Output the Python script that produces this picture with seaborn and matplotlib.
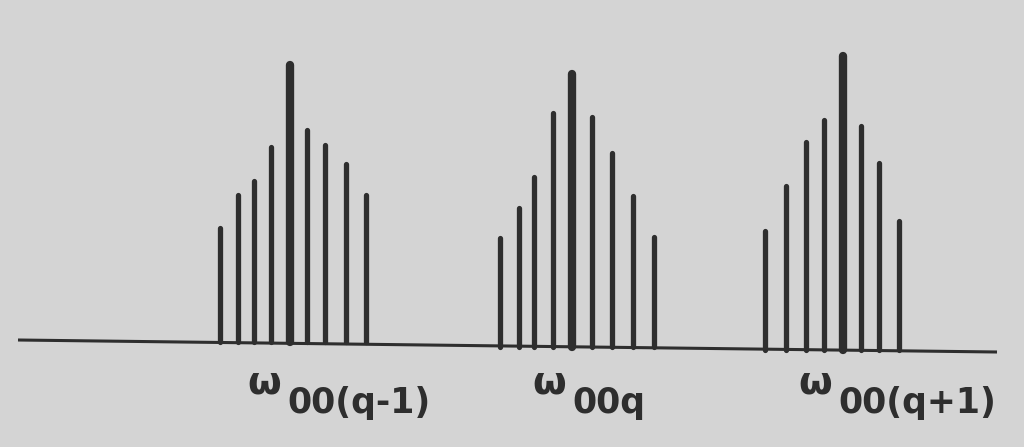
import numpy as np
import pandas as pd
import matplotlib
matplotlib.use("Agg")
import matplotlib.pyplot as plt
import seaborn as sns

# spectral line positions and heights
pos_1 = [220, 238, 254, 271, 290, 307, 325, 346, 366]
h_1 = [114, 147, 161, 195, 277, 212, 197, 178, 147]
pos_2 = [500, 519, 534, 553, 572, 592, 612, 633, 654]
h_2 = [109, 139, 170, 234, 273, 230, 194, 151, 110]
pos_3 = [765, 786, 806, 824, 843, 861, 879, 899]
h_3 = [119, 164, 208, 230, 294, 224, 187, 129]
base = [105, 100, 97]
centre = [290, 572, 843]

labels = ["00(q-1)", "00q", "00(q+1)"]
label_x = [247, 532, 798]

sns.set_theme(style="white")
ink = "#2e2e2e"
paper = "#d4d4d4"

fig = plt.figure(figsize=(10.24, 4.47), dpi=100, facecolor=paper)
ax = fig.add_axes([0, 0, 1, 1])
ax.set_facecolor(paper)
ax.set_xlim(0, 1024)
ax.set_ylim(0, 447)
ax.axis("off")

# baseline (slightly tilted in the scan)
ax.plot([18, 997], [107, 95], color=ink, lw=2.2, solid_capstyle="butt")

groups = [(pos_1, h_1), (pos_2, h_2), (pos_3, h_3)]
for (xs, hs), b, c in zip(groups, base, centre):
    df = pd.DataFrame({"x": xs, "h": hs})
    for _, r in df.iterrows():
        lw = 6.0 if r["x"] == c else 3.8
        ax.plot([r["x"], r["x"]], [b, b + r["h"]], color=ink, lw=lw,
                solid_capstyle="round")

for lab, lx in zip(labels, label_x):
    ax.text(lx, 447 - 382, "ω", fontsize=28, color=ink, ha="left", va="center",
            fontweight="bold")
    ax.text(lx + 40, 447 - 403, lab, fontsize=25, color=ink, ha="left",
            va="center", fontweight="semibold")

fig.savefig("out.png", dpi=100, facecolor=paper)
